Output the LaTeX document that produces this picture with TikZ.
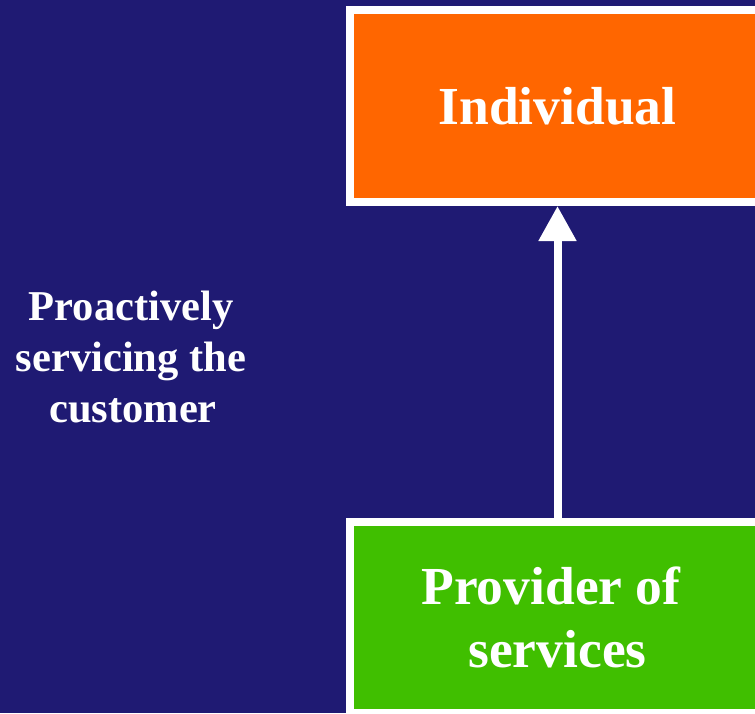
\documentclass[tikz,border=0pt]{standalone}
\usepackage{fontspec}
\setmainfont{Liberation Serif}
\usetikzlibrary{arrows.meta}
\definecolor{navy}{RGB}{31,26,115}
\definecolor{tangerine}{RGB}{255,102,0}
\definecolor{leaf}{RGB}{64,191,0}
\tikzstyle{block} = [draw=white, line width=8pt, minimum width=416pt, text=white, align=center, font=\bfseries\fontsize{53.5}{63}\selectfont]
\tikzstyle{role} = [block, fill=tangerine, minimum height=192pt]
\tikzstyle{actor} = [block, fill=leaf, minimum height=191pt]
\tikzstyle{caption} = [text=white, align=center, font=\bfseries\fontsize{42.5}{51}\selectfont]

\begin{document}
\begin{tikzpicture}[x=1pt, y=-1pt]
        \useasboundingbox (0,0) rectangle (755,713);
        \clip (0,0) rectangle (755,713);
        \fill[navy] (0,0) rectangle (755,713);

        \node[role](ind) at (557.5,106){Individual};
        \node[actor](prov) at (557.5,617.5){Provider of\hspace*{13pt} \\ services};
        \node[caption](pro) at (131,357){Proactively \\ servicing the \\ \hspace*{4pt}customer};

        \draw[white, line width=8pt, -{Triangle[width=36pt, length=35pt]}] (prov) -- (ind);
    \end{tikzpicture}
\end{document}
